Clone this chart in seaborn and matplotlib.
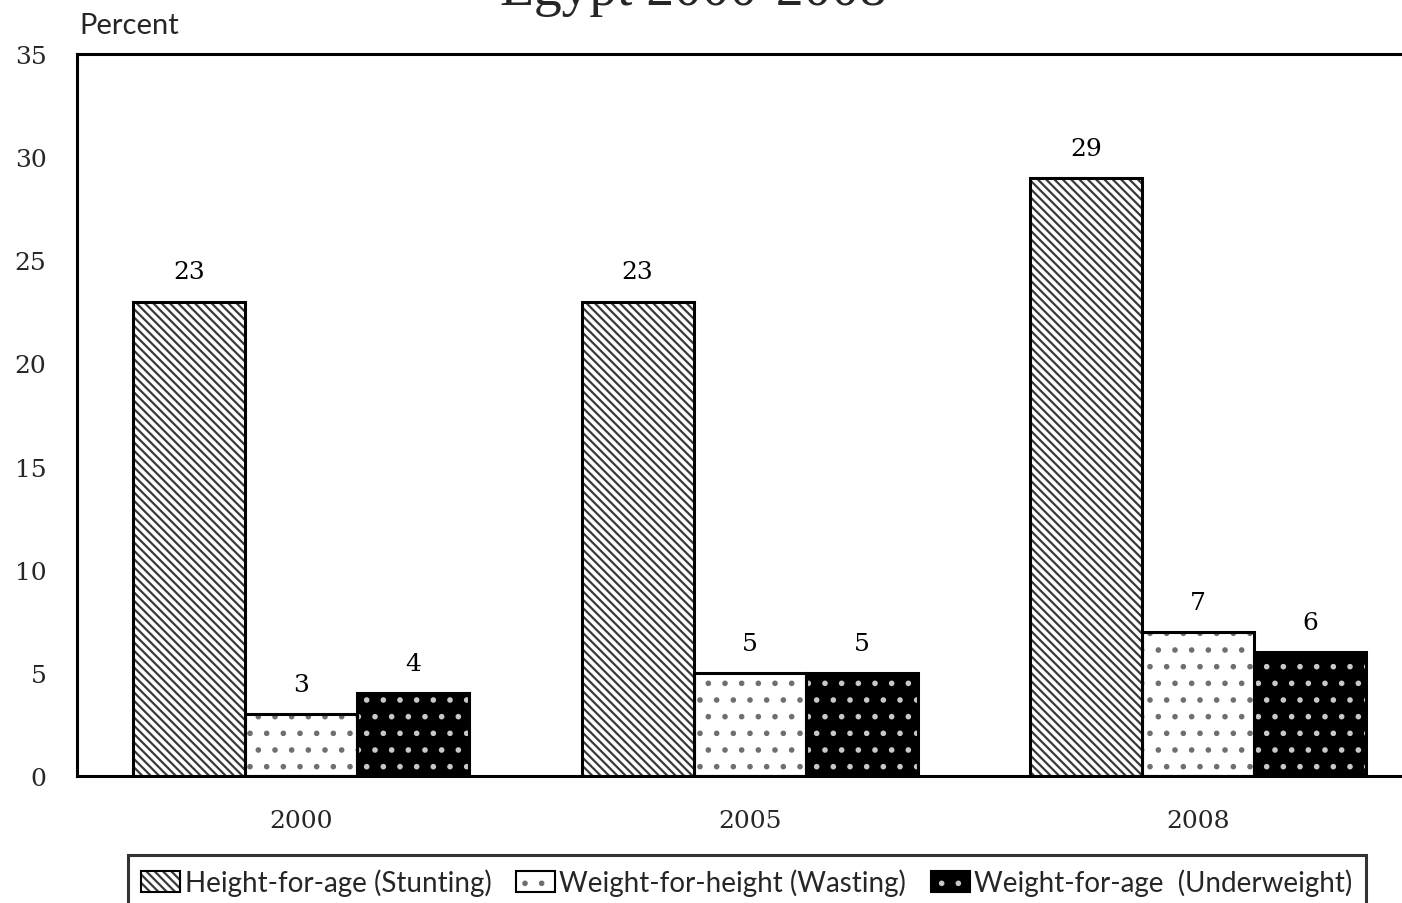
import matplotlib
matplotlib.use("Agg")
import matplotlib.pyplot as plt
from matplotlib.patches import Patch
import pandas as pd
import seaborn as sns

# Nutritional status of children under five, Egypt
years = ["2000", "2005", "2008"]
indicators = ["Height-for-age (Stunting)", "Weight-for-height (Wasting)",
              "Weight-for-age  (Underweight)"]
stunting = [23, 23, 29]
wasting = [3, 5, 7]
underweight = [4, 5, 6]
y_ticks = [0, 5, 10, 15, 20, 25, 30, 35]

df = pd.DataFrame({
    "year": years * 3,
    "indicator": [indicators[0]] * 3 + [indicators[1]] * 3 + [indicators[2]] * 3,
    "value": stunting + wasting + underweight,
})

sns.set_style("white")
plt.rcParams["hatch.linewidth"] = 1.6
NUM_FONT = "DejaVu Serif"
TXT_FONT = "Lato"

# fill colour, hatch pattern, hatch colour for each indicator
styles = {
    indicators[0]: ("white", "\\\\\\\\", "#3a3a3a"),
    indicators[1]: ("white", ".", "#6f6f6f"),
    indicators[2]: ("black", ".", "#c8c8c8"),
}

fig = plt.figure(figsize=(14.02, 9.04), dpi=100)
ax = fig.add_axes([77 / 1402, 1 - 777 / 904, 1345.5 / 1402, 722 / 904])

# textured fills
sns.barplot(data=df, x="year", y="value", hue="indicator", order=years,
            hue_order=indicators, width=0.75, gap=0, legend=False,
            errorbar=None, ax=ax, palette=["white"] * 3)
for cont, ind in zip(ax.containers, indicators):
    fc, hatch, hc = styles[ind]
    for p in cont:
        p.set_facecolor(fc)
        p.set_hatch(hatch)
        p.set_edgecolor(hc)
        p.set_linewidth(0)

n_fill = len(ax.containers)
# black outlines on top
sns.barplot(data=df, x="year", y="value", hue="indicator", order=years,
            hue_order=indicators, width=0.75, gap=0, legend=False,
            errorbar=None, ax=ax, fill=False, palette=["black"] * 3,
            linewidth=2.2)
for cont in ax.containers[n_fill:]:
    for p in cont:
        p.set_edgecolor("black")
        p.set_linewidth(2.2)

for cont in ax.containers[n_fill:]:
    ax.bar_label(cont, labels=[f"{v:g}" for v in cont.datavalues], padding=13,
                 fontsize=18, fontfamily=NUM_FONT, color="black")

ax.set_xlim(-0.5, 2.5)
ax.set_ylim(0, 35)
ax.set_yticks(y_ticks)
ax.set_yticklabels([str(t) for t in y_ticks], fontsize=18, fontfamily=NUM_FONT)
ax.set_xticks(range(len(years)))
ax.set_xticklabels(years, fontsize=18, fontfamily=NUM_FONT)
ax.tick_params(axis="y", length=0, pad=22)
ax.tick_params(axis="x", length=0, pad=24)
ax.set_xlabel("")
ax.set_ylabel("")
for side in ["left", "top", "bottom"]:
    ax.spines[side].set_visible(True)
    ax.spines[side].set_color("black")
    ax.spines[side].set_linewidth(2.2)
ax.spines["right"].set_visible(False)

fig.text(79 / 1402, 1 - 34 / 904, "Percent", fontsize=21, fontfamily=TXT_FONT,
         va="baseline", ha="left")
fig.text(693 / 1402, 1 - 5 / 904, "Egypt 2000-2008", fontsize=40,
         fontfamily="Liberation Serif", va="baseline", ha="center")

handles = []
for ind in indicators:
    fc, hatch, hc = styles[ind]
    handles.append((Patch(facecolor=fc, hatch=hatch, edgecolor=hc, linewidth=0),
                    Patch(fill=False, edgecolor="black", linewidth=1.5)))
leg = fig.legend(handles, indicators, loc="upper center", ncol=3,
                 bbox_to_anchor=(747 / 1402, 1 - 856 / 904),
                 frameon=True, fancybox=False, edgecolor="black",
                 prop={"family": TXT_FONT, "size": 20},
                 handlelength=1.4, handleheight=0.8, handletextpad=0.15,
                 columnspacing=0.9, borderpad=0.5, borderaxespad=0)
leg.get_frame().set_linewidth(2.2)

fig.savefig("out.png", dpi=100)
